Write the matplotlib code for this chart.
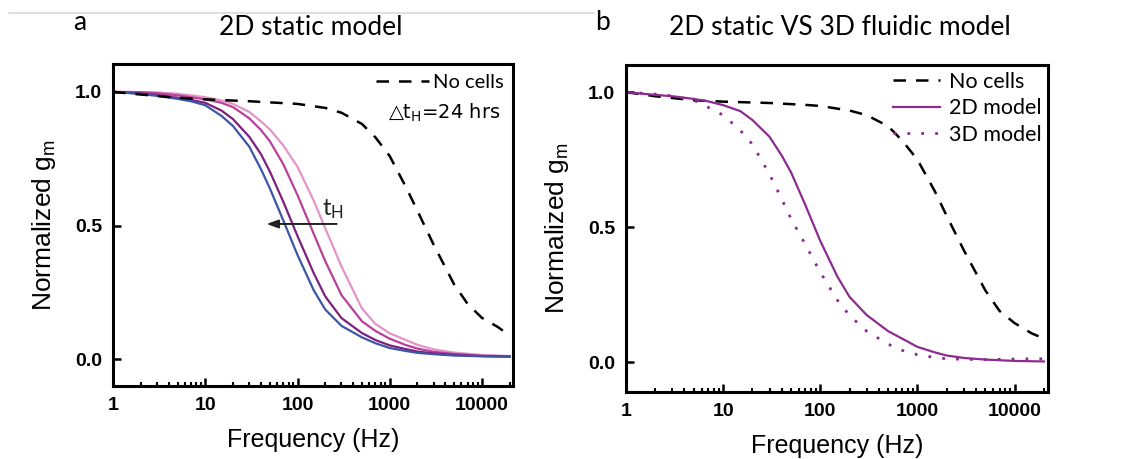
import numpy as np
import matplotlib.pyplot as plt
from matplotlib.lines import Line2D

plt.rcParams['mathtext.default'] = 'regular'

# frequency grid (Hz) shared by the cell curves
freq = [1, 2, 3, 5, 7, 10, 15, 20, 30, 40, 50, 70, 100, 150, 200, 300,
        500, 700, 1000, 1500, 2000, 3000, 5000, 10000, 20000]

# panel a : 2D static model, four hydrogel times (tH)
g_blue = [1.000, 0.992, 0.985, 0.974, 0.965, 0.950, 0.910, 0.872, 0.795, 0.712, 0.640, 0.520,
          0.390, 0.258, 0.186, 0.125, 0.082, 0.060, 0.042, 0.031, 0.024, 0.019, 0.014, 0.011, 0.010]
g_purple = [1.000, 0.994, 0.988, 0.978, 0.970, 0.959, 0.930, 0.898, 0.832, 0.768, 0.703, 0.590,
            0.461, 0.322, 0.235, 0.154, 0.098, 0.072, 0.052, 0.038, 0.029, 0.022, 0.016, 0.012, 0.010]
g_magenta = [1.000, 0.999, 0.995, 0.987, 0.980, 0.972, 0.959, 0.943, 0.901, 0.858, 0.816, 0.730,
             0.614, 0.469, 0.367, 0.240, 0.142, 0.106, 0.077, 0.053, 0.040, 0.028, 0.020, 0.013, 0.011]
g_pink = [1.000, 0.999, 0.998, 0.993, 0.987, 0.980, 0.968, 0.955, 0.925, 0.890, 0.860, 0.800,
          0.720, 0.593, 0.490, 0.347, 0.190, 0.132, 0.097, 0.072, 0.054, 0.037, 0.025, 0.016, 0.012]

# "No cells" reference curves
freq_nc = [1, 2, 5, 10, 30, 70, 100, 200, 300, 500, 700, 1000, 1500, 2000, 3000,
           5000, 7000, 10000, 15000, 18000]
g_nc_a = [1.000, 0.990, 0.978, 0.972, 0.965, 0.958, 0.955, 0.940, 0.922, 0.880, 0.830, 0.760,
          0.644, 0.555, 0.428, 0.280, 0.207, 0.155, 0.120, 0.100]
g_nc_b = [1.000, 0.985, 0.970, 0.965, 0.960, 0.953, 0.949, 0.932, 0.915, 0.874, 0.820, 0.750,
          0.635, 0.542, 0.415, 0.266, 0.190, 0.145, 0.107, 0.095]

# panel b : 2D vs 3D model
g_2d = [1.000, 0.990, 0.985, 0.975, 0.966, 0.952, 0.930, 0.897, 0.835, 0.766, 0.703, 0.583,
        0.449, 0.317, 0.242, 0.175, 0.115, 0.087, 0.057, 0.037, 0.025, 0.016, 0.010, 0.005, 0.003]
g_3d = [1.000, 0.993, 0.986, 0.970, 0.944, 0.915, 0.859, 0.807, 0.696, 0.605, 0.531, 0.437,
        0.333, 0.230, 0.173, 0.115, 0.067, 0.044, 0.028, 0.018, 0.013, 0.011, 0.010, 0.012, 0.013]

xticks = [1, 10, 100, 1000, 10000]
xticklabels = ['1', '10', '100', '1000', '10000']
yticks = [0.0, 0.5, 1.0]

c_blue = '#3d55a8'
c_purple = '#7e1f80'
c_magenta = '#b8409b'
c_pink = '#e394c8'
c_2d = '#8c2c8e'

legfont = ['Lato', 'DejaVu Sans']


def style_axes(ax, ylim):
    ax.set_xscale('log')
    ax.set_xlim(1, 22000)
    ax.set_ylim(*ylim)
    ax.set_xticks(xticks)
    ax.set_xticklabels(xticklabels)
    ax.set_yticks(yticks)
    ax.set_yticklabels(['0.0', '0.5', '1.0'])
    for lab in ax.get_xticklabels() + ax.get_yticklabels():
        lab.set_fontweight('bold')
        lab.set_fontsize(14)
        lab.set_family('Liberation Sans')
    ax.tick_params(which='major', direction='in', length=6, width=1.8, pad=8)
    ax.tick_params(which='minor', direction='in', length=3, width=1.5)
    ax.tick_params(axis='y', which='minor', left=False)
    for s in ax.spines.values():
        s.set_linewidth(2.2)
    ax.set_xlabel('Frequency (Hz)', fontsize=18, family='Liberation Sans', labelpad=10)
    ax.set_ylabel('Normalized g$_\\mathregular{m}$', fontsize=19, family='Liberation Sans',
                  labelpad=12)


fig = plt.figure(figsize=(11.31, 4.59), dpi=100)
ax1 = fig.add_axes([0.100, 0.159, 0.354, 0.702])
ax2 = fig.add_axes([0.5535, 0.146, 0.373, 0.712])

# panel a
ax1.plot(freq, g_pink, color=c_pink, lw=1.6)
ax1.plot(freq, g_magenta, color=c_magenta, lw=1.6)
ax1.plot(freq, g_purple, color=c_purple, lw=1.6)
ax1.plot(freq, g_blue, color=c_blue, lw=1.6)
ax1.plot(freq_nc, g_nc_a, color='black', lw=1.8, dashes=(5, 4), label='No cells')
style_axes(ax1, (-0.10, 1.105))
ax1.legend(loc='upper right', frameon=False, prop={'family': legfont, 'size': 14.5},
           handlelength=2.6, handletextpad=0.2, borderaxespad=0.3, borderpad=0.2)
ax1.text(0.968, 0.848, '\u25b3t$_\\mathregular{H}$=24 hrs', transform=ax1.transAxes,
         ha='right', va='center', fontsize=14, family='DejaVu Sans')
ax1.annotate('', xy=(43, 0.506), xytext=(285, 0.506),
             arrowprops=dict(arrowstyle='-|>,head_length=0.7,head_width=0.25',
                             color='#222222', lw=1.4))
ax1.text(245, 0.56, 't$_\\mathregular{H}$', fontsize=17, family=legfont,
         ha='center', va='center', color='#222222')

# panel b
ax2.plot(freq_nc, g_nc_b, color='black', lw=1.8, dashes=(5, 4), label='No cells')
ax2.plot(freq, g_2d, color=c_2d, lw=1.6, label='2D model')
ax2.plot(freq, g_3d, color=c_2d, lw=2.0, ls=(0, (1, 4)), label='3D model')
style_axes(ax2, (-0.11, 1.10))
ax2.legend(loc='upper right', frameon=False, prop={'family': legfont, 'size': 15.5},
           handlelength=2.2, handletextpad=0.4, borderaxespad=0.1, borderpad=0.2,
           labelspacing=0.3)

# headings
fig.text(0.0707, 0.952, 'a', fontsize=19, family=legfont, ha='center', va='center')
fig.text(0.275, 0.939, '2D static model', fontsize=19, family=legfont, ha='center', va='center')
fig.text(0.533, 0.952, 'b', fontsize=19, family=legfont, ha='center', va='center')
fig.text(0.743, 0.939, '2D static VS 3D fluidic model', fontsize=19, family=legfont,
         ha='center', va='center')
fig.add_artist(Line2D([0.008, 0.525], [0.972, 0.972], transform=fig.transFigure,
                      color='#d9d9d9', lw=1.2))

fig.savefig('out.png', dpi=100)
